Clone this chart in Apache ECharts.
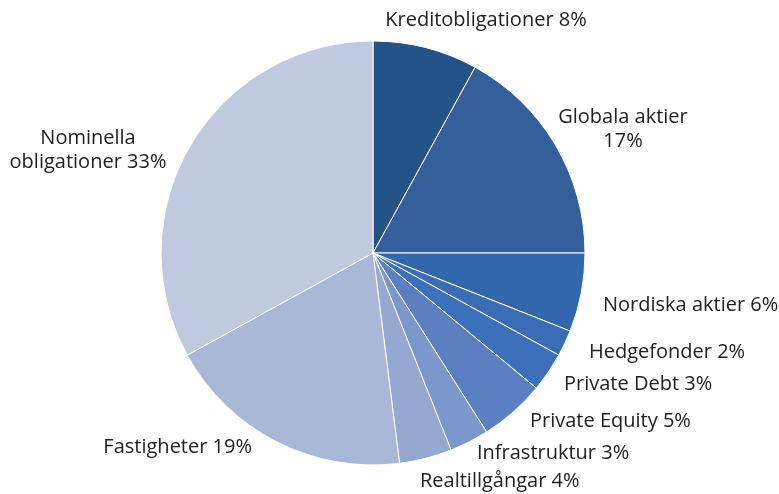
<!DOCTYPE html>
<html>
<head>
<meta charset="utf-8">
<script src="https://cdn.jsdelivr.net/npm/echarts@6/dist/echarts.min.js"></script>
<style>
  html, body { margin: 0; padding: 0; background: #fff; }
  #chart { width: 779px; height: 494px; }
</style>
</head>
<body>
<div id="chart"></div>
<script>
// andelar i procent, medurs från kl 12
var names = ['Kreditobligationer', 'Globala aktier', 'Nordiska aktier', 'Hedgefonder', 'Private Debt',
  'Private Equity', 'Infrastruktur', 'Realtillgångar', 'Fastigheter', 'Nominella obligationer'];
var labelTexts = ['Kreditobligationer 8%', 'Globala aktier\n17%', 'Nordiska aktier 6%', 'Hedgefonder 2%', 'Private Debt 3%',
  'Private Equity 5%', 'Infrastruktur 3%', 'Realtillgångar 4%', 'Fastigheter 19%', 'Nominella\nobligationer 33%'];
var values = [8, 17, 6, 2, 3, 5, 3, 4, 19, 33];
var colors = ['#245487', '#345f9a', '#3367ad', '#3a6db6', '#3d70bb',
  '#5a80c2', '#7b97cb', '#94a8d1', '#aab8d8', '#bfc9e0'];

// var etikett: x, y, justering (placering av texten runt cirkeln)
var labelSpots = [
  [486, 20, 'center'], [623, 129, 'center'], [603, 305, 'left'], [589, 352, 'left'], [564, 384, 'left'],
  [530, 421, 'left'], [477, 453, 'left'], [420, 481, 'left'], [252, 447, 'right'], [88, 150, 'center']
];

var myChart = echarts.init(document.getElementById('chart'));
var option = {
  animation: false,
  series: [{
    type: 'pie',
    center: [373, 253],
    radius: 212,
    startAngle: 90,
    clockwise: true,
    itemStyle: { borderColor: '#fff', borderWidth: 1 },
    label: {
      show: true,
      position: 'inside',
      formatter: function (p) { return labelTexts[p.dataIndex]; },
      color: '#222',
      fontFamily: 'Open Sans',
      fontSize: 20,
      lineHeight: 24
    },
    labelLine: { show: false },
    labelLayout: function (p) {
      var s = labelSpots[p.dataIndex];
      return { x: s[0], y: s[1], align: s[2], verticalAlign: 'middle' };
    },
    emphasis: { disabled: true },
    data: values.map(function (v, i) {
      return { name: names[i], value: v, itemStyle: { color: colors[i] } };
    })
  }]
};
myChart.setOption(option);
window.addEventListener('resize', function () { myChart.resize(); });
</script>
</body>
</html>
